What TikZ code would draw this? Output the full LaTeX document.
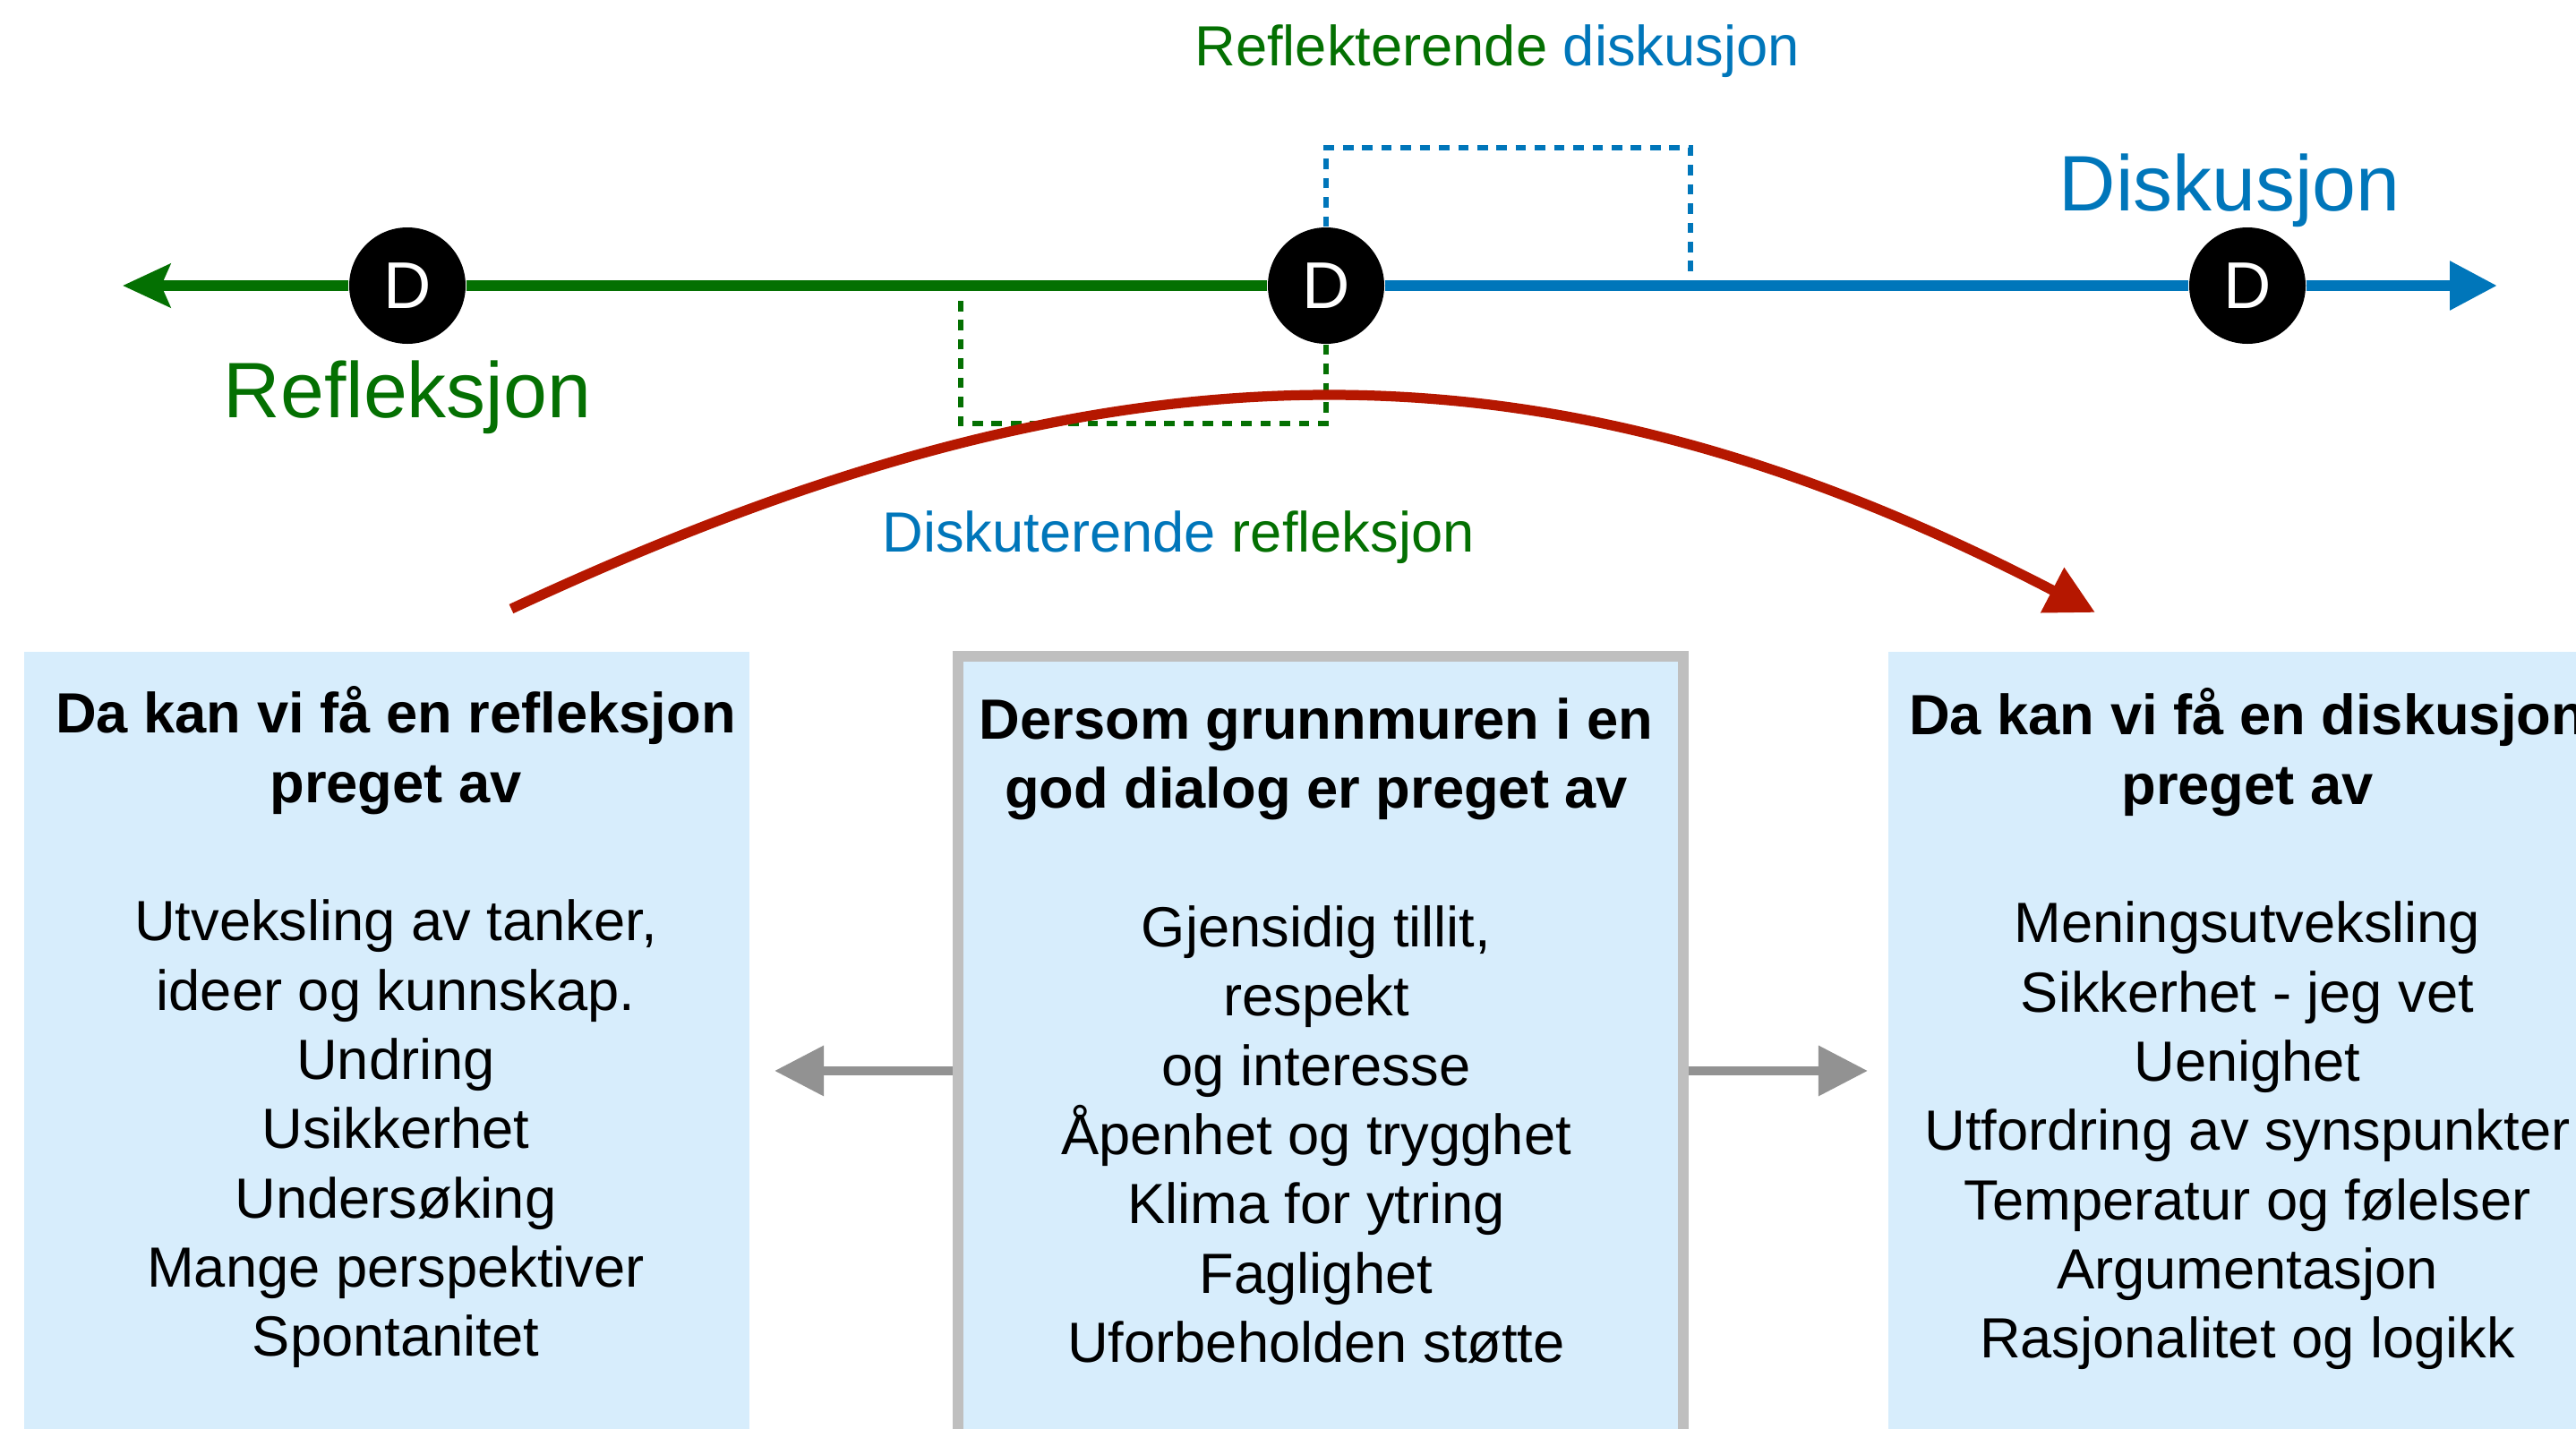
\documentclass[tikz,border=0pt]{standalone}
\usepackage{fontspec}
\setmainfont{Liberation Sans}
\usetikzlibrary{positioning,arrows.meta}

\definecolor{refgreen}{RGB}{4,112,2}
\definecolor{diskblue}{RGB}{0,118,186}
\definecolor{arcred}{RGB}{181,23,0}
\definecolor{boxfill}{RGB}{215,237,252}
\definecolor{boxgray}{RGB}{191,191,191}
\definecolor{arrowgray}{RGB}{146,146,146}

\tikzset{
  dnode/.style={circle, fill=black, minimum size=1.30cm, inner sep=0pt, text=white, font=\fontsize{21}{24}\selectfont},
  infobox/.style={rectangle, fill=boxfill, minimum width=8.1cm, minimum height=9.26cm, anchor=north, inner sep=0pt},
  boxtext/.style={align=center, inner sep=0pt, font=\fontsize{18}{22}\selectfont},
  bigtext/.style={anchor=base, font=\fontsize{25}{30}\selectfont},
  smalltext/.style={anchor=base, font=\fontsize{18}{22}\selectfont},
  axisline/.style={line width=3.4pt},
  dotline/.style={line width=1.7pt, dash pattern=on 3.3pt off 2.8pt},
  grayarrow/.style={arrowgray, line width=2.8pt, -{Triangle[length=0.55cm, width=0.54cm]}}
}

\begin{document}
\begin{tikzpicture}
\useasboundingbox (0,0) rectangle (28.77,-15.96);
\clip (0,0) rectangle (28.77,-15.96);

% the three boxes
\node[infobox] (lbox) at (4.32,-7.27) {};
\node[infobox, draw=boxgray, line width=3.4pt] (cbox) at (14.75,-7.27) {};
\node[infobox] (rbox) at (25.14,-7.27) {};

\node[boxtext, below=0.39cm of lbox.north, xshift=0.1cm] (ltext) {\textbf{Da kan vi få en refleksjon}\\ \textbf{preget av}\\[22pt]
  Utveksling av tanker,\\ ideer og kunnskap.\\ Undring\\ Usikkerhet\\ Undersøking\\ Mange perspektiver\\ Spontanitet};
\node[boxtext, below=0.52cm of cbox.north, xshift=-0.05cm] (ctext) {\textbf{Dersom grunnmuren i en}\\ \textbf{god dialog er preget av}\\[22pt]
  Gjensidig tillit,\\ respekt\\ og interesse\\ Åpenhet og trygghet\\ Klima for ytring\\ Faglighet\\ Uforbeholden støtte};
\node[boxtext, below=0.41cm of rbox.north, xshift=-0.04cm] (rtext) {\textbf{Da kan vi få en diskusjon}\\ \textbf{preget av}\\[22pt]
  Meningsutveksling\\ Sikkerhet - jeg vet\\ Uenighet\\ Utfordring av synspunkter\\ Temperatur og følelser\\ Argumentasjon\\ Rasjonalitet og logikk};

\coordinate (lgoal) at ([xshift=-1.99cm]cbox.west);
\coordinate (rgoal) at ([xshift=2.0cm]cbox.east);
\draw[grayarrow] (cbox.west) -- (lgoal);
\draw[grayarrow] (cbox.east) -- (rgoal);

% the axis
\node[dnode] (d1) at (4.55,-3.19) {D};
\node[dnode] (d2) at (14.81,-3.19) {D};
\node[dnode] (d3) at (25.10,-3.19) {D};
\coordinate (lend) at (1.37,-3.19);
\coordinate (rend) at (27.89,-3.19);

\draw[axisline, refgreen] (d2.west) -- (d1.east);
\draw[axisline, refgreen, -{Stealth[length=0.53cm, width=0.48cm, inset=0.1cm]}] (d1.west) -- (lend);
\draw[axisline, diskblue] (d2.east) -- (d3.west);
\draw[axisline, diskblue, -{Triangle[length=0.53cm, width=0.52cm]}] (d3.east) -- (rend);

% dotted brackets
\coordinate (btop) at (18.88,-1.65);
\coordinate (bend) at (18.88,-3.03);
\coordinate (gbot) at (10.73,-4.73);
\coordinate (gend) at (10.73,-3.27);
\draw[dotline, diskblue] (d2.north) |- (btop) -- (bend);
\draw[dotline, refgreen] (d2.south) |- (gbot) -- (gend);

% labels
\node[bigtext, refgreen] (refl) at (4.55,-4.66) {Refleksjon};
\node[bigtext, diskblue] (disk) at (24.90,-2.35) {Diskusjon};
\node[smalltext] (refdisk) at (16.72,-0.73) {\textcolor{refgreen}{Reflekterende} \textcolor{diskblue}{diskusjon}};
\node[smalltext] (diskref) at (13.16,-6.16) {\textcolor{diskblue}{Diskuterende} \textcolor{refgreen}{refleksjon}};

% red arc
\coordinate (arcstart) at (5.71,-6.80);
\coordinate (arcend) at (23.40,-6.84);
\draw[arcred, line width=3.2pt, -{Triangle[length=0.54cm, width=0.54cm]}] (arcstart) .. controls (12.21,-3.77) and (17.04,-3.53) .. (arcend);
\end{tikzpicture}
\end{document}
